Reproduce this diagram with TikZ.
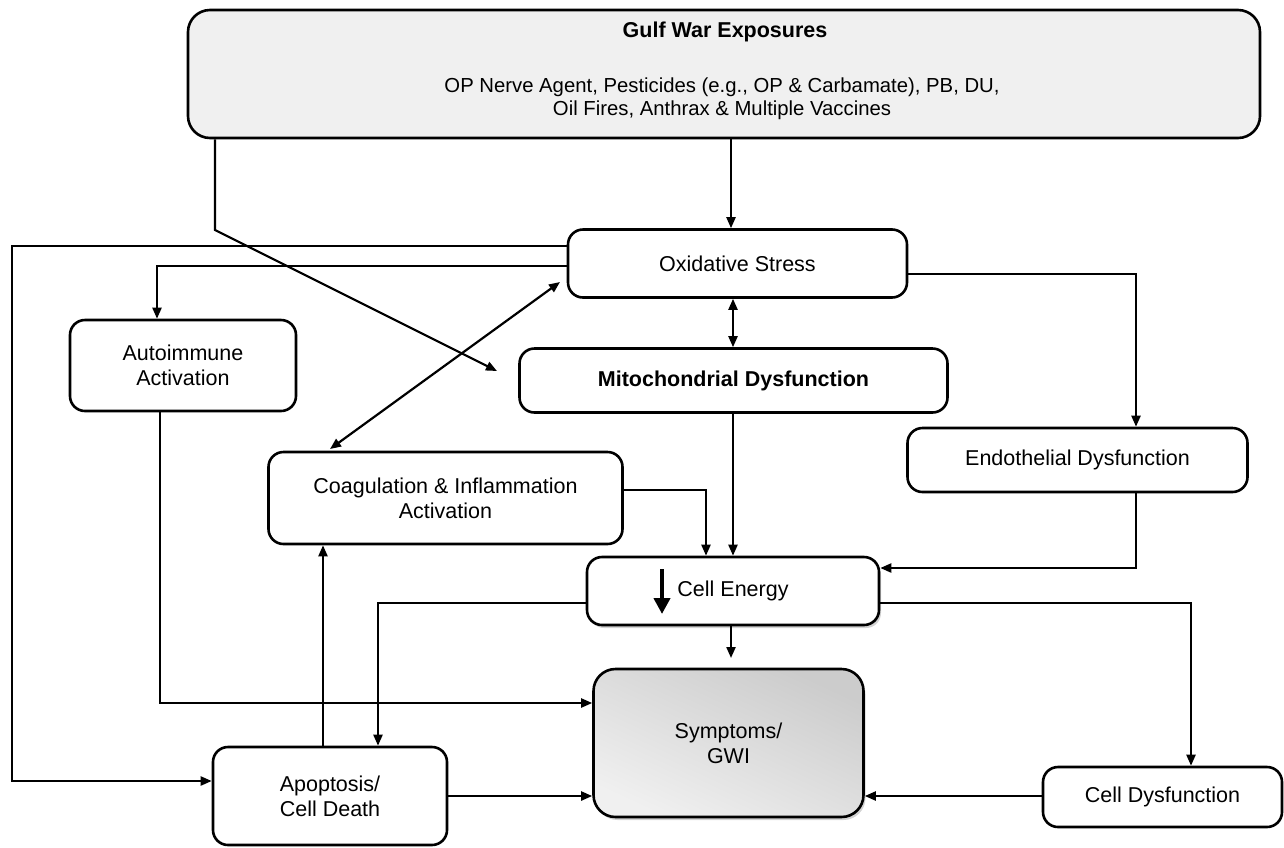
\documentclass[tikz,border=0pt]{standalone}
\usepackage{fontspec}
\setmainfont{Liberation Sans}
\usetikzlibrary{arrows.meta,shadows}
\begin{document}
\begin{tikzpicture}[x=1pt,y=-1pt,
  box/.style={draw=black, line width=2.6pt, rounded corners=15pt, fill=white, inner sep=0pt, align=center,
    font=\fontsize{21.5}{25}\selectfont},
  con/.style={line width=2.2pt},
  arr/.style={con, -{Triangle[length=11pt,width=9pt]}},
  darr/.style={con, {Triangle[length=11pt,width=9pt]}-{Triangle[length=11pt,width=9pt]}},
  shd/.style={drop shadow={opacity=0.35, shadow xshift=2pt, shadow yshift=-3pt}},
  txt/.style={inner sep=0pt, align=center, font=\fontsize{20.3}{23}\selectfont}]
\useasboundingbox (0,0) rectangle (1284,847);
% nodes
\node[box, rounded corners=22pt, fill=black!6, minimum width=1072pt, minimum height=128pt] (top) at (724,74) {};
\node[txt, font=\fontsize{21.5}{24}\selectfont\bfseries] (toptitle) at (725,32) {Gulf War Exposures};
\node[txt] (topbody) at (722,99) {OP Nerve Agent, Pesticides (e.g., OP \& Carbamate), PB, DU,\\Oil Fires, Anthrax \& Multiple Vaccines};
\node[box, minimum width=339pt, minimum height=68pt] (ox) at (737.5,263.5) {Oxidative Stress};
\node[box, minimum width=226pt, minimum height=91pt] (auto) at (183,365.5) {Autoimmune\\Activation};
\node[box, minimum width=428pt, minimum height=64pt, font=\fontsize{21.5}{25}\selectfont\bfseries] (mito) at (733.5,380.5) {Mitochondrial Dysfunction};
\node[box, minimum width=340pt, minimum height=64pt] (endo) at (1077.5,460) {Endothelial Dysfunction};
\node[box, minimum width=354pt, minimum height=92pt] (coag) at (445.5,498) {Coagulation \& Inflammation\\Activation};
\node[box, shd, minimum width=292pt, minimum height=68pt] (ce) at (733,591) {Cell Energy};
\node[box, shd, rounded corners=22pt, shading=axis, top color=black!20, bottom color=black!6, shading angle=-25,
  minimum width=270pt, minimum height=148pt] (sym) at (728.5,743) {Symptoms/\\GWI};
\node[box, minimum width=234pt, minimum height=98pt] (apo) at (330,796) {Apoptosis/\\Cell Death};
\node[box, minimum width=239pt, minimum height=60pt] (cdys) at (1162.5,797) {Cell Dysfunction};
% thick down arrow inside Cell Energy
\draw[line width=4.5pt, -{Triangle[length=16pt,width=16pt]}] (662,569) -- (662,614);
% helper coordinates
\coordinate (a) at (731,0);
\coordinate (b1) at (215,230);
\coordinate (b2) at (497,371);
\coordinate (c1) at (12,246);
\coordinate (c2) at (12,781);
\coordinate (d1) at (157,266);
\coordinate (e1) at (560,282);
\coordinate (e2) at (330,449);
\coordinate (f) at (733,0);
\coordinate (g) at (1136,274);
\coordinate (h) at (706,490);
\coordinate (i) at (1136,568);
\coordinate (j) at (378,603);
\coordinate (k) at (1191,603);
\coordinate (l) at (731,658);
\coordinate (m) at (160,703);
\coordinate (n) at (323,0);
\coordinate (o) at (0,796);
% connectors
\draw[arr] (top.south -| a) -- (ox.north -| a);
\draw[arr] (top.south -| b1) -- (b1) -- (b2);
\draw[arr] (ox.west |- c1) -- (c1) -- (c2) -- (apo.west |- c2);
\draw[arr] (ox.west |- d1) -- (d1) -- (auto.north -| d1);
\draw[darr] (e1) -- (e2);
\draw[darr] (ox.south -| f) -- (mito.north -| f);
\draw[arr] (ox.east |- g) -- (g) -- (endo.north -| g);
\draw[arr] (mito.south -| f) -- (ce.north -| f);
\draw[arr] (coag.east |- h) -- (h) -- (ce.north -| h);
\draw[arr] (endo.south -| i) -- (i) -- (ce.east |- i);
\draw[arr] (ce.west |- j) -- (j) -- (apo.north -| j);
\draw[arr] (ce.east |- k) -- (k) -- (cdys.north -| k);
\draw[arr] (ce.south -| l) -- (l);
\draw[arr] (auto.south -| m) -- (m) -- (sym.west |- m);
\draw[arr] (apo.north -| n) -- (coag.south -| n);
\draw[arr] (apo.east |- o) -- (sym.west |- o);
\draw[arr] (cdys.west |- o) -- (sym.east |- o);
\end{tikzpicture}
\end{document}
